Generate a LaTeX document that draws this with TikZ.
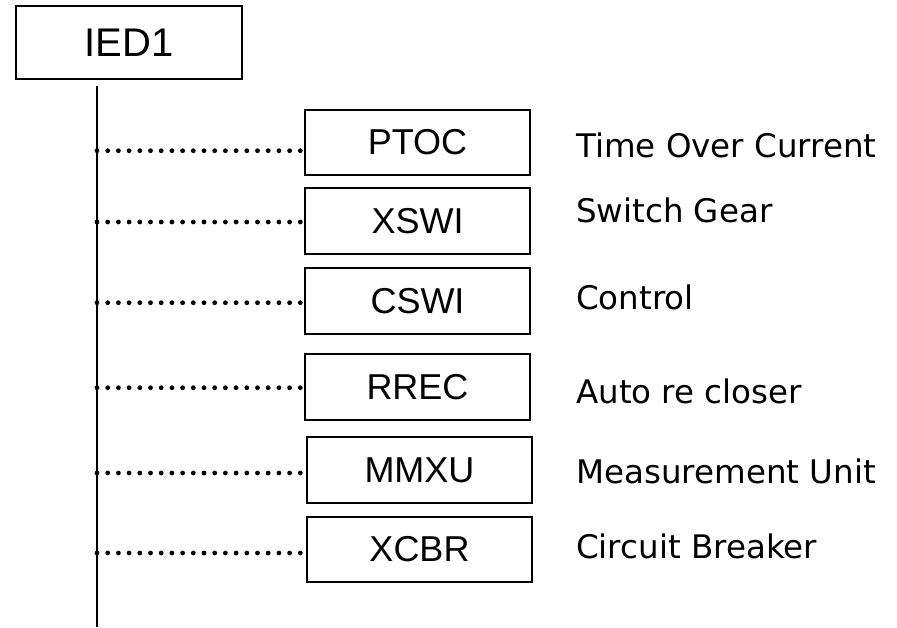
\documentclass[tikz,border=0pt]{standalone}
\usepackage{fontspec}
\setmainfont{Liberation Sans}
\newfontfamily\labelfont{DejaVu Sans}
\usepackage{tikz}
\usetikzlibrary{positioning,calc,decorations.markings}

\begin{document}
\begin{tikzpicture}[
    x=1pt, y=-1pt,
    ied/.style={rectangle, draw, line width=1.5pt, minimum width=226pt, minimum height=73pt, inner sep=0pt, font=\fontsize{40}{44}\selectfont},
    block/.style={rectangle, draw, line width=2pt, minimum width=225pt, minimum height=66pt, inner sep=0pt, font=\fontsize{36}{40}\selectfont},
    desc/.style={anchor=base west, inner sep=0pt, font=\labelfont\fontsize{32.5}{36}\selectfont},
    bus/.style={line width=2pt},
    link/.style={decoration={markings, mark=between positions 0 and 0.99 step 10.7pt with {\fill (0,0) circle (2.4pt);}}, postaction=decorate}
]
    \useasboundingbox (0,0) rectangle (897,627);

    % IED and its bus
    \node[ied] (ied) at (129,42.5) {IED1};
    \coordinate (bustop) at (97,86);
    \coordinate (busend) at (97,627);
    \draw[bus] (bustop) -- (busend);

    % Logical nodes
    \node[block, minimum height=65pt] (ptoc) at (417.5,142.5) {PTOC};
    \node[block] (xswi) at (417.5,221) {XSWI};
    \node[block] (cswi) at (417.5,301) {CSWI};
    \node[block] (rrec) at (417.5,387) {RREC};
    \node[block] (mmxu) at (419.5,470) {MMXU};
    \node[block, minimum height=65pt] (xcbr) at (419.5,549.5) {XCBR};

    % Taps on the bus
    \coordinate (t1) at (97,150.7);
    \coordinate (t2) at (97,222);
    \coordinate (t3) at (97,302.7);
    \coordinate (t4) at (97,387.7);
    \coordinate (t5) at (97,473);
    \coordinate (t6) at (97,553);

    \path[link] (t1) -- (t1 -| ptoc.west);
    \path[link] (t2) -- (t2 -| xswi.west);
    \path[link] (t3) -- (t3 -| cswi.west);
    \path[link] (t4) -- (t4 -| rrec.west);
    \path[link] (t5) -- (t5 -| mmxu.west);
    \path[link] (t6) -- (t6 -| xcbr.west);

    % Descriptions
    \node[desc] (dptoc) at (576,157) {Time Over Current};
    \node[desc] (dxswi) at (576,222) {Switch Gear};
    \node[desc] (dcswi) at (576,309) {Control};
    \node[desc] (drrec) at (576,403) {Auto re closer};
    \node[desc] (dmmxu) at (576,483) {Measurement Unit};
    \node[desc] (dxcbr) at (576,558) {Circuit Breaker};

\end{tikzpicture}
\end{document}
